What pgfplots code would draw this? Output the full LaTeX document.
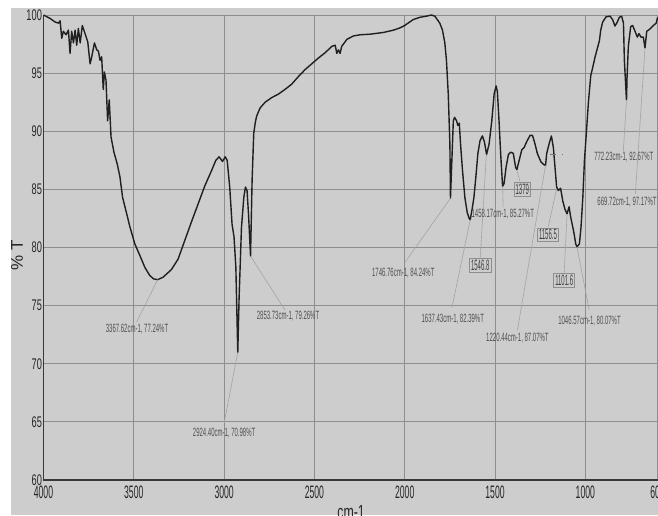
\documentclass[border=0pt]{standalone}
\usepackage{fontspec}
\setmainfont{Liberation Sans}
\newfontfamily\ytf[FakeStretch=0.6]{Liberation Sans}
\newfontfamily\xtf[FakeStretch=0.48]{Liberation Sans}
\newfontfamily\anf[FakeStretch=0.5]{Liberation Sans}
\newfontfamily\bxf[FakeStretch=0.4]{Liberation Sans}
\newfontfamily\lbf[FakeStretch=0.65]{Liberation Sans}
\usepackage{pgfplots}
\pgfplotsset{compat=1.18}

\definecolor{page}{HTML}{CDCDCD}
\definecolor{gridc}{HTML}{8E8E8E}
\definecolor{leader}{HTML}{A4A4A4}
\definecolor{anntext}{HTML}{505050}

\begin{document}
\begin{tikzpicture}
% scanned page
\fill[white] (-21.75pt,-17.5pt) rectangle (307.2pt,240pt);
\fill[page] (-16.25pt,-17.5pt) rectangle (307.2pt,236pt);

\begin{axis}[
    at={(0pt,0pt)}, anchor=south west,
    width=307pt, height=232.5pt, scale only axis,
    xmin=600, xmax=4000, x dir=reverse,
    ymin=60, ymax=100,
    axis lines=left, axis line style={-, draw=black!78, line width=0.6pt},
    xtick={4000,3500,3000,2500,2000,1500,1000,600},
    xticklabels={4000,3500,3000,2500,2000,1500,1000,600},
    ytick={60,65,70,75,80,85,90,95,100},
    yticklabels={60,65,70,75,80,85,90,95,100},
    major tick length=0pt,
    grid=major,
    major grid style={draw=gridc, line width=0.5pt},
    xticklabel style={font=\xtf\fontsize{9}{10}\selectfont, inner sep=0pt, yshift=-2.5pt, text=black!85},
    yticklabel style={font=\ytf\fontsize{7.7}{8}\selectfont, inner sep=0.6pt, text=black!85},
    clip=false,
]

% spectrum
\addplot[color=black!88, line width=0.7pt, mark=none, line join=round] coordinates {
(4000,100.0) (3963,99.7) (3936,99.4) (3917,99.3) (3908,99.5) (3899,98.0)
(3890,98.6) (3875,98.3) (3862,98.7) (3853,96.7) (3844,98.6) (3834,97.6)
(3825,98.7) (3816,97.4) (3807,98.85) (3797,97.6) (3785,99.1) (3770,98.4)
(3755,97.7) (3742,95.8) (3733,96.4) (3718,97.6) (3705,97.0) (3696,96.9)
(3687,96.1) (3678,96.4) (3669,93.6) (3663,95.1) (3654,94.4) (3645,90.9)
(3636,92.7) (3626,89.5) (3610,88.2) (3592,87.2) (3577,86.1) (3562,84.3)
(3544,83.2) (3522,81.8) (3494,80.3) (3466,79.3) (3439,78.3) (3412,77.6)
(3390,77.3) (3367.62,77.24) (3338,77.45) (3292,78.1) (3255,79.0) (3218,80.6)
(3181,82.2) (3144,83.75) (3107,85.3) (3070,86.6) (3046,87.5) (3028,87.8)
(3018,87.6) (3009,87.4) (2994,87.8) (2983,87.5) (2969,85.2) (2956,82.0)
(2945,80.9) (2935,78.3) (2924.4,70.98) (2917,75.7) (2904,81.7) (2891,84.3)
(2882,85.2) (2873,84.9) (2865,82.9) (2853.73,79.26) (2845,85.8) (2836,89.8)
(2828,90.7) (2820,91.3) (2801,92.0) (2773,92.5) (2736,92.9) (2699,93.2)
(2663,93.6) (2626,94.05) (2589,94.7) (2552,95.3) (2515,95.8) (2478,96.3)
(2441,96.75) (2404,97.3) (2385,97.4) (2376,96.7) (2367,97.0) (2358,96.7)
(2349,97.3) (2330,97.7) (2321,97.9) (2284,98.2) (2247,98.3) (2192,98.35)
(2118,98.5) (2062,98.7) (2025,98.9) (2000,99.1) (1954,99.6) (1917,99.8)
(1880,99.9) (1852,100.0) (1833,99.9) (1806,99.3) (1791,98.7) (1778,97.6)
(1769,96.1) (1759,93.2) (1750,88.9) (1746.76,84.24) (1739,87.5) (1731,90.9)
(1724,91.2) (1713,90.9) (1706,90.5) (1698,90.7) (1691,88.9) (1680,86.6)
(1667,84.3) (1654,83.0) (1643,82.5) (1637.43,82.39) (1628,83.2) (1617,84.3)
(1606,86.1) (1595,88.1) (1583,89.2) (1570,89.6) (1559,89.1) (1546.8,88.0)
(1533,88.9) (1518,90.9) (1505,93.2) (1494,93.9) (1487,93.4) (1478,90.9)
(1469,88.1) (1458.17,85.27) (1450,85.5) (1439,86.9) (1426,88.0) (1413,88.2)
(1399,88.1) (1386,86.9) (1379,86.7) (1365,87.6) (1352,88.4) (1339,88.6)
(1325,89.1) (1306,89.65) (1293,89.65) (1282,89.1) (1266,88.1) (1247,87.4)
(1232,87.15) (1220.44,87.07) (1214,88.1) (1201,88.9) (1188,89.6) (1177,88.6)
(1168,86.9) (1159,85.2) (1149,84.9) (1137,85.1) (1125,84.0) (1113,83.3)
(1101.6,82.9) (1090,83.5) (1081,82.6) (1066,81.5) (1053,80.3) (1046.57,80.07)
(1033,80.3) (1024,81.75) (1014,84.3) (1005,87.5) (996,89.5) (983,92.5)
(970,94.8) (959,95.5) (946,96.4) (934,97.1) (922,97.8) (915,98.7)
(904,99.4) (885,99.85) (863,99.9) (849,99.6) (836,99.05) (823,99.4)
(812,99.8) (799,99.9) (789,99.3) (784,96.1) (772.23,92.67) (769,94.7)
(762,97.3) (749,99.0) (738,99.1) (725,98.6) (712,98.1) (703,98.4)
(692,98.1) (679,98.1) (669.72,97.17) (660,98.6) (642,98.8) (623,99.1)
(608,99.3) (600,99.8)
};

% leader lines
\begin{scope}[draw=leader, line width=0.3pt]
\draw (axis cs:3484,73.6) -- (axis cs:3367.62,77.24);
\draw (axis cs:3000,64.9) -- (axis cs:2924.4,70.98);
\draw (axis cs:2662,74.6) -- (axis cs:2853.73,79.26);
\draw (axis cs:1998,78.75) -- (axis cs:1746.76,84.24);
\draw (axis cs:1739,74.8) -- (axis cs:1637.43,82.39);
\draw (axis cs:1455,83.5) -- (axis cs:1458.17,85.27);
\draw (axis cs:1376,72.9) -- (axis cs:1220.44,87.07);
\draw (axis cs:979,74.65) -- (axis cs:1046.57,80.07);
\draw (axis cs:790,88.2) -- (axis cs:772.23,92.67);
\draw (axis cs:723,84.6) -- (axis cs:669.72,97.17);
\draw (axis cs:1379,86.6) -- (axis cs:1362,85.7);
\draw (axis cs:1548,88.0) -- (axis cs:1582,79.1);
\draw (axis cs:1160,85.0) -- (axis cs:1205,81.8);
\draw (axis cs:1101.6,82.8) -- (axis cs:1117,77.85);
\draw[dashed, draw=black!55] (axis cs:1195,88.05) -- (axis cs:1123,88.05);
\end{scope}

% peak annotations
\begin{scope}[every node/.style={font=\anf\fontsize{6}{7}\selectfont, text=anntext, inner sep=0pt}]
\node at (axis cs:3482,73.0) {3367.62cm-1, 77.24\%T};
\node at (axis cs:3000,64.05) {2924.40cm-1, 70.98\%T};
\node at (axis cs:2646,74.1) {2853.73cm-1, 79.26\%T};
\node at (axis cs:2008,77.8) {1746.76cm-1, 84.24\%T};
\node at (axis cs:1734,73.85) {1637.43cm-1, 82.39\%T};
\node at (axis cs:1457,82.84) {1458.17cm-1, 85.27\%T};
\node at (axis cs:1376,72.25) {1220.44cm-1, 87.07\%T};
\node at (axis cs:977,73.7) {1046.57cm-1, 80.07\%T};
\node at (axis cs:787,87.75) {772.23cm-1, 92.67\%T};
\node[anchor=west] at (axis cs:935,83.87) {669.72cm-1, 97.17\%T};
\end{scope}

% boxed labels
\begin{scope}[every node/.style={font=\bxf\fontsize{7.5}{8}\selectfont, text=black!75, draw=gridc, line width=0.3pt, inner sep=0.8pt}]
\node at (axis cs:1349,85.0) {1379};
\node at (axis cs:1582,78.45) {1546.8};
\node at (axis cs:1207,81.1) {1156.5};
\node at (axis cs:1117,77.2) {1101.6};
\end{scope}
\end{axis}

% axis titles
\node[rotate=90, font=\fontsize{8.5}{9}\selectfont, text=black!85] at (-13.25pt,112.5pt) {\% T};
\node[anchor=base, font=\lbf\fontsize{9.5}{10}\selectfont, text=black!85] at (153.75pt,-19pt) {cm-1};

\pgfresetboundingbox
\path[use as bounding box] (-21.75pt,-17.5pt) rectangle (307.2pt,240pt);
\end{tikzpicture}
\end{document}
